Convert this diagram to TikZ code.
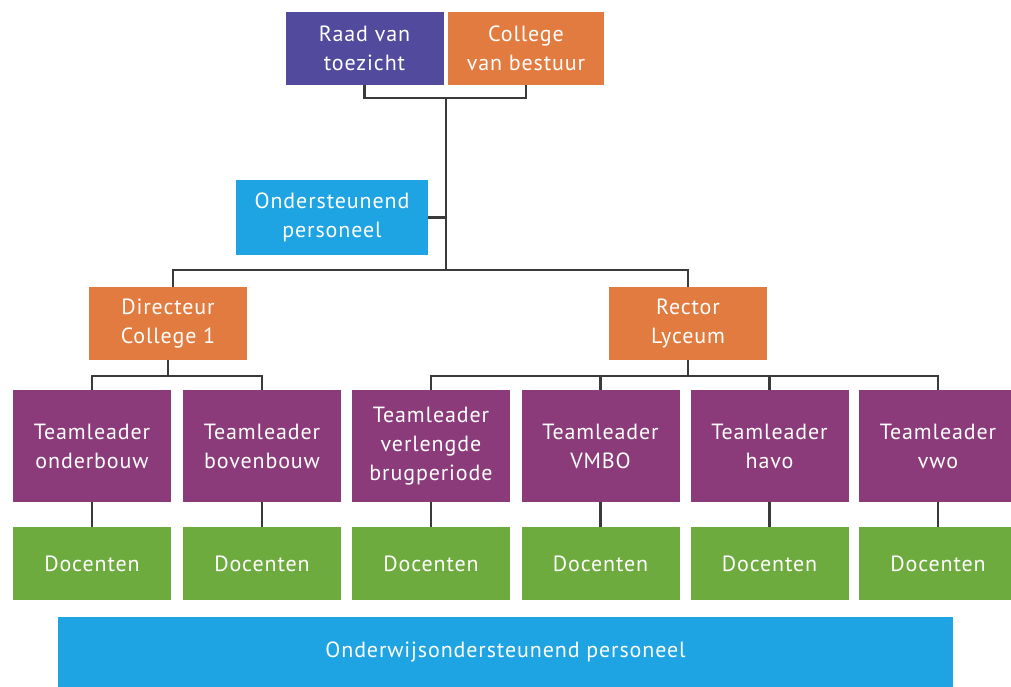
\documentclass[tikz,border=0pt]{standalone}
\usepackage{fontspec}
\setmainfont{PT Sans}[LetterSpace=4]
\usetikzlibrary{calc, positioning}
\definecolor{raadpurple}{HTML}{524A9C}
\definecolor{boardorange}{HTML}{E27B3F}
\definecolor{staffblue}{HTML}{1EA3E3}
\definecolor{leaderplum}{HTML}{8B3B79}
\definecolor{teachgreen}{HTML}{6DAB3E}
\definecolor{linegray}{HTML}{3A3A3A}
\tikzset{
  unit/.style={rectangle, inner sep=2pt, align=center, text=white,
    minimum width=158pt, minimum height=73pt,
    font=\fontsize{22}{29}\selectfont},
  leader/.style={unit, fill=leaderplum, minimum height=112pt},
  teachers/.style={unit, fill=teachgreen},
  link/.style={draw=linegray, line width=2.2pt}
}
\begin{document}
\begin{tikzpicture}[x=1pt,y=-1pt]
  \useasboundingbox (0,0) rectangle (1011,687);

  % top level
  \node[unit, fill=raadpurple] (raad) at (364.5,48.5) {Raad van\\toezicht};
  \node[unit, fill=boardorange, minimum width=156pt] (college) at (526,48.5) {College\\van bestuur};
  \node[unit, fill=staffblue, minimum width=192pt, minimum height=75pt] (steun) at (332,217.5) {Ondersteunend\\personeel};

  \node[unit, fill=boardorange] (directeur) at (168,323.5) {Directeur\\College 1};
  \node[unit, fill=boardorange] (rector) at (688,323.5) {Rector\\Lyceum};

  % teamleaders and teachers
  \foreach \i/\x/\txt in {1/92/{Teamleader\\onderbouw}, 2/262/{Teamleader\\bovenbouw},
      3/431/{Teamleader\\verlengde\\brugperiode}, 4/600.5/{Teamleader\\VMBO},
      5/769.5/{Teamleader\\havo}, 6/938/{Teamleader\\vwo}}
  {
    \node[leader] (tl\i) at (\x,446) {\txt};
    \node[teachers] (doc\i) at (\x,563.5) {Docenten};
    \draw[link] (tl\i.south) -- (doc\i.north);
  }

  \node[unit, fill=staffblue, minimum width=895pt, minimum height=70pt] (owp) at (505.5,652) {Onderwijsondersteunend personeel};

  % connectors
  \coordinate (top) at (446,98);
  \coordinate (hub) at (446,270);
  \draw[link] (raad.south) |- (top) -| (college.south);
  \draw[link] (top) -- (hub);
  \draw[link] (steun.east) -- (steun.east -| hub);
  \draw[link] ([xshift=5pt]directeur.north) |- (hub) -| (rector.north);

  \draw[link] (directeur.south) -- ++(0,16) coordinate (dsplit);
  \draw[link] (tl1.north) |- (dsplit) -| (tl2.north);
  \draw[link] (rector.south) -- ++(0,16) coordinate (rsplit);
  \draw[link] (tl3.north) |- (rsplit) -| (tl6.north);
  \foreach \i in {4,5}
    \draw[link] (tl\i.north) -- (tl\i.north |- rsplit);
\end{tikzpicture}
\end{document}
